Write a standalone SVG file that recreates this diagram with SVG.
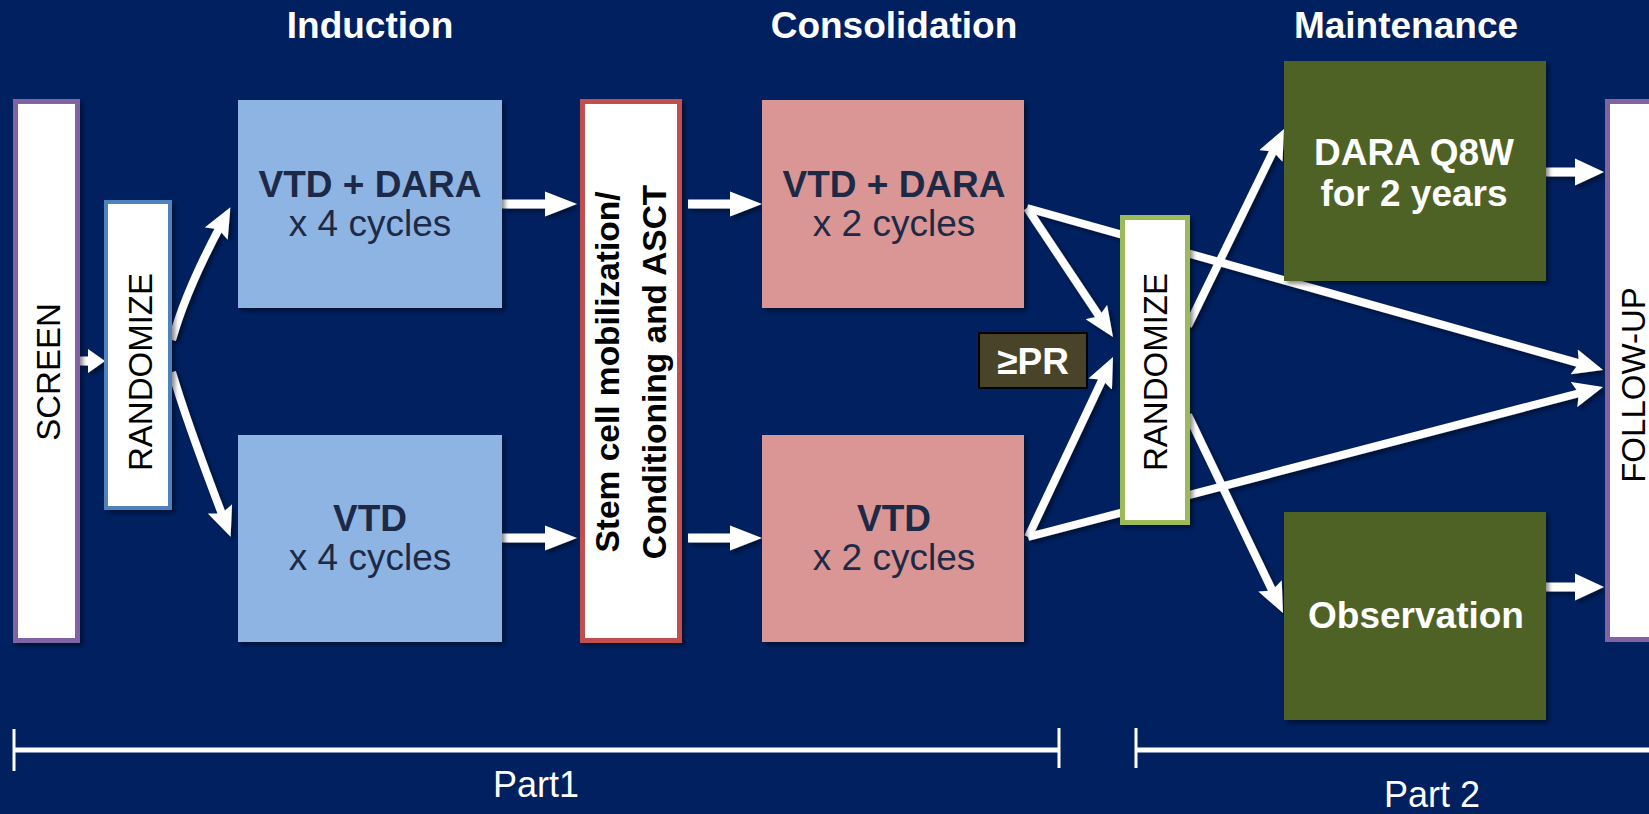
<svg xmlns="http://www.w3.org/2000/svg" width="1649" height="814" viewBox="0 0 1649 814">
<style>
  text { font-family: "Liberation Sans", Arial, sans-serif; }
  .hdr { font-size: 37px; font-weight: bold; fill: #ffffff; text-anchor: middle; }
  .big { font-size: 37px; text-anchor: middle; fill: #1d2a47; }
  .b { font-weight: bold; }
  .wt { fill: #ffffff; }
  .vt { font-size: 33px; fill: #000000; text-anchor: middle; }
  .vtb { font-size: 33.5px; font-weight: bold; fill: #000000; text-anchor: middle; }
  .part { font-size: 36px; fill: #ffffff; text-anchor: middle; }
  .conn { stroke: #ffffff; stroke-width: 8; fill: none; marker-end: url(#ah); }
  .blk { fill: #ffffff; }
  .bar { stroke: #ffffff; stroke-width: 5; fill: none; }
  .tick { stroke: #ffffff; stroke-width: 3; fill: none; }
</style>
<defs>
  <filter id="sh" x="-10%" y="-10%" width="130%" height="130%">
    <feDropShadow dx="3" dy="3" stdDeviation="2" flood-color="#000000" flood-opacity="0.45"/>
  </filter>
  <marker id="ah" markerUnits="userSpaceOnUse" viewBox="0 0 30 26" markerWidth="30" markerHeight="26" refX="12" refY="13" orient="auto">
    <path d="M0,0 L30,13 L0,26 L5,13 z" fill="#ffffff"/>
  </marker>
</defs>

<rect x="0" y="0" width="1649" height="814" fill="#002060"/>

<g id="headers">
  <text class="hdr" x="370" y="37.5">Induction</text>
  <text class="hdr" x="894" y="37.5">Consolidation</text>
  <text class="hdr" x="1406" y="37.5">Maintenance</text>
</g>

<g id="connectors" filter="url(#sh)">
  <!-- block arrows -->
  <polygon class="blk" points="80,356.5 88,356.5 88,349 105,361 88,373 88,365.5 80,365.5"/>
  <polygon class="blk" points="502,199.5 545,199.5 545,191.5 577,204 545,216.5 545,208.5 502,208.5"/>
  <polygon class="blk" points="502,533.5 545,533.5 545,525.5 577,538 545,550.5 545,542.5 502,542.5"/>
  <polygon class="blk" points="688,199.5 730,199.5 730,191.5 762,204 730,216.5 730,208.5 688,208.5"/>
  <polygon class="blk" points="688,533.5 730,533.5 730,525.5 762,538 730,550.5 730,542.5 688,542.5"/>
  <polygon class="blk" points="1546,167.5 1575,167.5 1575,158.5 1604,172 1575,185.5 1575,176.5 1546,176.5"/>
  <polygon class="blk" points="1546,582.5 1575,582.5 1575,573.5 1604,587 1575,600.5 1575,591.5 1546,591.5"/>
  <!-- diagonal connectors -->
  <path class="conn" d="M172,340 Q186,290 221.9,223.1"/>
  <path class="conn" d="M172,372 Q186,420 224.2,520"/>
  <path class="conn" d="M1027,208 L1103,322"/>
  <path class="conn" d="M1027,208 L1585.7,365.1"/>
  <path class="conn" d="M1028,537 L1105.3,373.3"/>
  <path class="conn" d="M1028,537 L1585.6,391.5"/>
  <path class="conn" d="M1188,326 L1276.1,145.2"/>
  <path class="conn" d="M1188,415 L1275.2,596.8"/>
</g>

<g id="screen">
  <rect x="15.5" y="101.5" width="62" height="539" fill="#ffffff" stroke="#8064a2" stroke-width="5" filter="url(#sh)"/>
  <text class="vt" transform="translate(60,372) rotate(-90)">SCREEN</text>
</g>

<g id="randomize1">
  <rect x="106" y="202" width="64" height="306" fill="#ffffff" stroke="#4f81bd" stroke-width="4" filter="url(#sh)"/>
  <text class="vt" transform="translate(152,372) rotate(-90)">RANDOMIZE</text>
</g>

<g id="induction-dara">
  <rect x="238" y="100" width="264" height="208" fill="#8eb4e3" filter="url(#sh)"/>
  <text class="big b" x="370" y="197">VTD + DARA</text>
  <text class="big" x="370" y="236">x 4 cycles</text>
</g>

<g id="induction-vtd">
  <rect x="238" y="435" width="264" height="207" fill="#8eb4e3" filter="url(#sh)"/>
  <text class="big b" x="370" y="531">VTD</text>
  <text class="big" x="370" y="570">x 4 cycles</text>
</g>

<g id="stemcell">
  <rect x="582.5" y="101.5" width="97" height="539" fill="#ffffff" stroke="#c0504d" stroke-width="5" filter="url(#sh)"/>
  <text class="vtb" transform="translate(618.5,372) rotate(-90)">Stem cell mobilization/</text>
  <text class="vtb" transform="translate(665.5,372) rotate(-90)">Conditioning and ASCT</text>
</g>

<g id="consolidation-dara">
  <rect x="762" y="100" width="262" height="208" fill="#d99694" filter="url(#sh)"/>
  <text class="big b" x="894" y="197">VTD + DARA</text>
  <text class="big" x="894" y="236">x 2 cycles</text>
</g>

<g id="consolidation-vtd">
  <rect x="762" y="435" width="262" height="207" fill="#d99694" filter="url(#sh)"/>
  <text class="big b" x="894" y="531">VTD</text>
  <text class="big" x="894" y="570">x 2 cycles</text>
</g>

<g id="pr-label">
  <rect x="979" y="333" width="108" height="55" fill="#494429" stroke="#000000" stroke-width="2"/>
  <text class="big b wt" x="1033" y="374">≥PR</text>
</g>

<g id="randomize2">
  <rect x="1122.5" y="217.5" width="65" height="305" fill="#ffffff" stroke="#9bbb59" stroke-width="5" filter="url(#sh)"/>
  <text class="vt" transform="translate(1167,372) rotate(-90)">RANDOMIZE</text>
</g>

<g id="maintenance-dara">
  <rect x="1284" y="61" width="262" height="220" fill="#4f6228" filter="url(#sh)"/>
  <text class="big b wt" x="1414" y="165">DARA Q8W</text>
  <text class="big b wt" x="1414" y="206">for 2 years</text>
</g>

<g id="observation">
  <rect x="1284" y="512" width="262" height="208" fill="#4f6228" filter="url(#sh)"/>
  <text class="big b wt" x="1416" y="628">Observation</text>
</g>

<g id="followup">
  <rect x="1607.5" y="101.5" width="60" height="538" fill="#ffffff" stroke="#8064a2" stroke-width="5"/>
  <text class="vt" transform="translate(1645,385) rotate(-90)">FOLLOW-UP</text>
</g>

<g id="parts">
  <line class="bar" x1="14" y1="750" x2="1059" y2="750"/>
  <line class="tick" x1="14" y1="729" x2="14" y2="771"/>
  <line class="tick" x1="1059" y1="728" x2="1059" y2="768"/>
  <line class="bar" x1="1136" y1="750" x2="1649" y2="750"/>
  <line class="tick" x1="1136" y1="728" x2="1136" y2="768"/>
  <text class="part" x="536" y="797">Part1</text>
  <text class="part" x="1432" y="807">Part 2</text>
</g>
</svg>
